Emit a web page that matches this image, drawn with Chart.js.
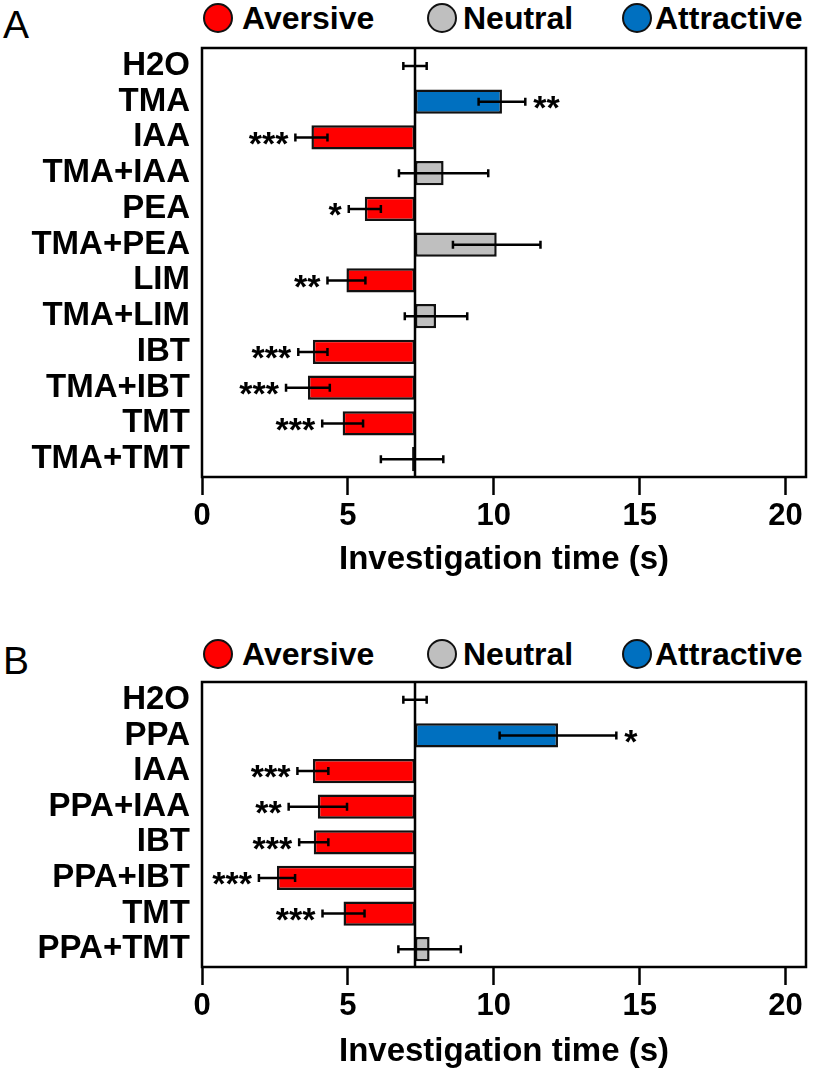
<!DOCTYPE html>
<html>
<head>
<meta charset="utf-8">
<script src="https://cdn.jsdelivr.net/npm/chart.js@4.4.0/dist/chart.umd.min.js"></script>
<style>
  body { margin: 0; background: #fff; }
  #wrap { position: relative; width: 813px; height: 1076px; font-family: Arial, "Liberation Sans", Helvetica, sans-serif; }
  canvas { position: absolute; left: 0; }
  .letter { position: absolute; left: 3px; font-size: 39px; line-height: 1; color: #000; }
  .dot { position: absolute; width: 26px; height: 26px; border-radius: 50%; border: 2px solid #111; }
  .lab { position: absolute; font-size: 32px; font-weight: bold; line-height: 1; color: #000; }
</style>
</head>
<body>
<div id="wrap">
  <div class="letter" style="top:5px">A</div>
  <div class="dot" style="left:203px;top:3px;background:#FF0000"></div>
  <div class="lab" style="left:242px;top:2px">Aversive</div>
  <div class="dot" style="left:427px;top:3px;background:#BFBFBF"></div>
  <div class="lab" style="left:463px;top:2px">Neutral</div>
  <div class="dot" style="left:622px;top:3px;background:#0070C0"></div>
  <div class="lab" style="left:655px;top:2px">Attractive</div>
  <canvas id="chartA" width="813" height="590" style="top:0"></canvas>

  <div class="letter" style="top:641px">B</div>
  <div class="dot" style="left:203px;top:639px;background:#FF0000"></div>
  <div class="lab" style="left:242px;top:638px">Aversive</div>
  <div class="dot" style="left:427px;top:639px;background:#BFBFBF"></div>
  <div class="lab" style="left:463px;top:638px">Neutral</div>
  <div class="dot" style="left:622px;top:639px;background:#0070C0"></div>
  <div class="lab" style="left:655px;top:638px">Attractive</div>
  <canvas id="chartB" width="813" height="486" style="top:590px"></canvas>
</div>
<script>
// H2O mean: every bar is drawn from this value
const BASE = 7.3;
const X_TICKS = [0, 5, 10, 15, 20];

const catsA = ["H2O", "TMA", "IAA", "TMA+IAA", "PEA", "TMA+PEA", "LIM", "TMA+LIM", "IBT", "TMA+IBT", "TMT", "TMA+TMT"];
const meanA = [7.3, 10.28, 3.75, 8.28, 5.58, 10.1, 4.95, 8.02, 3.8, 3.63, 4.82, 7.2];
const semA  = [0.4, 0.8, 0.55, 1.53, 0.55, 1.5, 0.65, 1.07, 0.5, 0.75, 0.7, 1.07];
const typeA = ["n", "a", "v", "n", "v", "n", "v", "n", "v", "v", "v", "n"];
const sigA  = ["", "**", "***", "", "*", "", "**", "", "***", "***", "***", ""];

const catsB = ["H2O", "PPA", "IAA", "PPA+IAA", "IBT", "PPA+IBT", "TMT", "PPA+TMT"];
const meanB = [7.3, 12.2, 3.8, 3.97, 3.83, 2.57, 4.85, 7.8];
const semB  = [0.4, 2.0, 0.53, 1.0, 0.5, 0.62, 0.72, 1.07];
const typeB = ["n", "a", "v", "v", "v", "v", "v", "n"];
const sigB  = ["", "*", "***", "**", "***", "***", "***", ""];

const colors = { v: "#FF0000", n: "#BFBFBF", a: "#0070C0" };
const FONT = "Arial, 'Liberation Sans', Helvetica, sans-serif";
Chart.defaults.color = "#000";
Chart.defaults.font.family = FONT;

function makePanel(id, cats, means, sems, types, sigs, lay) {
  const extras = {
    id: "extras",
    afterDatasetsDraw(chart) {
      const ctx = chart.ctx, xs = chart.scales.x, area = chart.chartArea;
      const meta = chart.getDatasetMeta(0);
      ctx.save();
      ctx.strokeStyle = "#000";
      ctx.lineWidth = 2.5;
      // baseline at H2O level
      const bx = xs.getPixelForValue(BASE);
      ctx.beginPath();
      ctx.moveTo(bx, area.top);
      ctx.lineTo(bx, area.bottom);
      ctx.stroke();
      // error bars + stars
      ctx.font = "bold 34px " + FONT;
      ctx.fillStyle = "#000";
      ctx.textBaseline = "middle";
      meta.data.forEach((bar, i) => {
        const y = bar.y;
        const x1 = xs.getPixelForValue(means[i] - sems[i]);
        const x2 = xs.getPixelForValue(means[i] + sems[i]);
        ctx.beginPath();
        ctx.moveTo(x1, y); ctx.lineTo(x2, y);
        ctx.moveTo(x1, y - 4); ctx.lineTo(x1, y + 4);
        ctx.moveTo(x2, y - 4); ctx.lineTo(x2, y + 4);
        ctx.stroke();
        if (sigs[i]) {
          if (means[i] < BASE) {
            ctx.textAlign = "right";
            ctx.fillText(sigs[i], x1 - 7, y + 8);
          } else {
            ctx.textAlign = "left";
            ctx.fillText(sigs[i], x2 + 8, y + 8);
          }
        }
      });
      ctx.restore();
    },
    afterDraw(chart) {
      const ctx = chart.ctx, a = chart.chartArea;
      ctx.save();
      ctx.strokeStyle = "#000";
      ctx.lineWidth = 2.5;
      ctx.strokeRect(a.left, a.top, a.right - a.left, a.bottom - a.top);
      ctx.restore();
    }
  };

  return new Chart(document.getElementById(id), {
    type: "bar",
    data: {
      labels: cats,
      datasets: [{
        data: means.map(v => [BASE, v]),
        backgroundColor: types.map(t => colors[t]),
        borderColor: "#111",
        borderWidth: 2.5,
        borderSkipped: false,
        categoryPercentage: 1,
        barPercentage: 0.68
      }]
    },
    options: {
      indexAxis: "y",
      responsive: false,
      animation: false,
      layout: { padding: { left: 0, right: 7, top: lay.top, bottom: 0 } },
      plugins: { legend: { display: false }, tooltip: { enabled: false } },
      scales: {
        x: {
          min: 0,
          max: 20.7,
          afterBuildTicks: s => { s.ticks = X_TICKS.map(v => ({ value: v })); },
          afterFit: s => { s.height = lay.xh; },
          border: { display: false },
          grid: { drawOnChartArea: false, drawTicks: true, tickLength: 18, tickWidth: 2.5, tickColor: "#000" },
          ticks: { padding: 3, font: { size: 31, weight: "bold" }, color: "#000" },
          title: {
            display: true,
            text: "Investigation time (s)",
            font: { size: 33, weight: "bold" },
            color: "#000",
            padding: { top: 0, bottom: lay.tpad }
          }
        },
        y: {
          afterFit: s => { s.width = 202; },
          border: { display: false },
          grid: { display: false, drawTicks: false },
          ticks: { padding: 12, autoSkip: false, font: { size: 33, weight: "bold" }, color: "#000" }
        }
      }
    },
    plugins: [extras]
  });
}

makePanel("chartA", catsA, meanA, semA, typeA, sigA, { top: 48, xh: 113, tpad: 10.5 });
makePanel("chartB", catsB, meanB, semB, typeB, sigB, { top: 92, xh: 109, tpad: 4.5 });
</script>
</body>
</html>
